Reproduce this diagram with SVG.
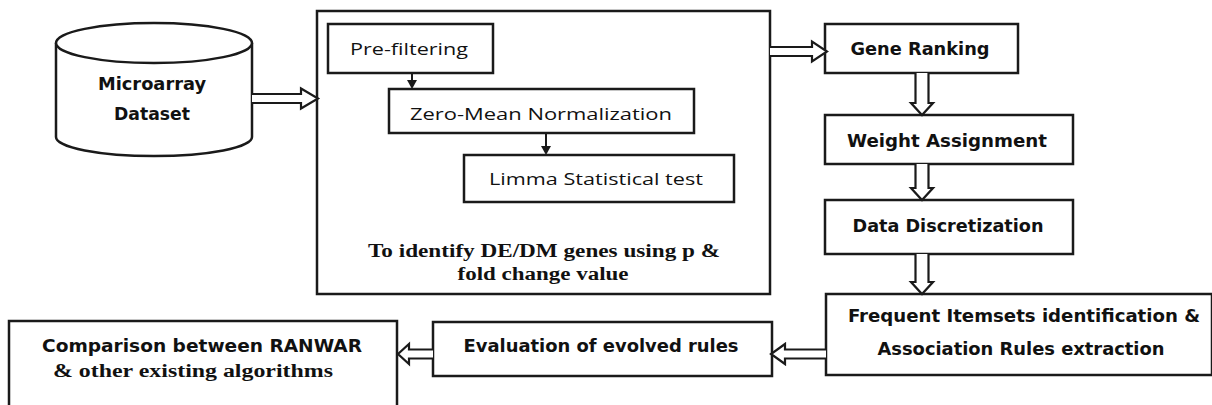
<svg xmlns="http://www.w3.org/2000/svg" width="1212" height="405" viewBox="0 0 1212 405">
<style>
.box{fill:#fff;stroke:#1a1a1a;stroke-width:2.5}
.arr{fill:#fff;stroke:#1a1a1a;stroke-width:2.2;stroke-linejoin:miter}
.sm{fill:none;stroke:#1a1a1a;stroke-width:2}
.tri{fill:#1a1a1a}
.hb{font-family:"DejaVu Sans",Verdana,sans-serif;font-weight:bold;font-size:17px;fill:#111;text-anchor:middle}
.cd{font-family:"DejaVu Sans Condensed","DejaVu Sans",sans-serif;font-weight:bold;font-size:17px;fill:#111;text-anchor:middle}
.rg{font-family:"Open Sans","DejaVu Sans",sans-serif;font-size:16px;fill:#111;text-anchor:middle}
.tb{font-family:"Liberation Serif","Times New Roman",serif;font-weight:bold;font-size:18px;fill:#111;text-anchor:middle}
</style>
<rect width="1212" height="405" fill="#fff"/>
<g id="microarray">
<path class="box" d="M56,43 L56,137 A98,19 0 0 0 252,137 L252,43"/>
<ellipse class="box" cx="154" cy="43" rx="98" ry="20"/>
<text class="hb" x="152" y="90" textLength="108" lengthAdjust="spacingAndGlyphs">Microarray</text>
<text class="hb" x="152" y="120" textLength="76" lengthAdjust="spacingAndGlyphs">Dataset</text>
</g>
<g id="preprocess">
<rect class="box" x="317" y="11" width="453" height="283"/>
<text class="tb" x="544" y="257" textLength="352" lengthAdjust="spacingAndGlyphs">To identify DE/DM genes using p &amp;</text>
<text class="tb" x="543" y="280" textLength="171" lengthAdjust="spacingAndGlyphs">fold change value</text>
</g>
<g id="prefiltering">
<rect class="box" x="328" y="24" width="165" height="49"/>
<text class="rg" x="409" y="55" textLength="118" lengthAdjust="spacingAndGlyphs">Pre-filtering</text>
</g>
<g id="zeromean">
<rect class="box" x="389" y="89" width="305" height="44"/>
<text class="rg" x="541" y="120" textLength="262" lengthAdjust="spacingAndGlyphs">Zero-Mean Normalization</text>
</g>
<g id="limma">
<rect class="box" x="464" y="155" width="270" height="47"/>
<text class="rg" x="596" y="185" textLength="214" lengthAdjust="spacingAndGlyphs">Limma Statistical test</text>
</g>
<g id="generanking">
<rect class="box" x="825" y="24" width="193" height="49"/>
<text class="hb" x="920" y="55" textLength="139" lengthAdjust="spacingAndGlyphs">Gene Ranking</text>
</g>
<g id="weight">
<rect class="box" x="825" y="115" width="248" height="49"/>
<text class="hb" x="947" y="147" textLength="200" lengthAdjust="spacingAndGlyphs">Weight Assignment</text>
</g>
<g id="discretization">
<rect class="box" x="825" y="200" width="248" height="54"/>
<text class="hb" x="948" y="232" textLength="191" lengthAdjust="spacingAndGlyphs">Data Discretization</text>
</g>
<g id="frequent">
<rect class="box" x="826" y="294" width="386" height="81"/>
<text class="cd" x="1024" y="322" textLength="352" lengthAdjust="spacingAndGlyphs">Frequent Itemsets identification  &amp;</text>
<text class="cd" x="1021" y="355" textLength="287" lengthAdjust="spacingAndGlyphs">Association Rules extraction</text>
</g>
<g id="evaluation">
<rect class="box" x="433" y="322" width="339" height="54"/>
<text class="cd" x="601" y="352" textLength="275" lengthAdjust="spacingAndGlyphs">Evaluation of evolved rules</text>
</g>
<g id="comparison">
<rect class="box" x="9" y="321" width="388" height="100"/>
<text class="hb" x="202" y="352" textLength="320" lengthAdjust="spacingAndGlyphs">Comparison between RANWAR</text>
<text class="tb" x="193" y="377" textLength="280" lengthAdjust="spacingAndGlyphs">&amp; other existing algorithms</text>
</g>
<g id="connectors">
<path class="arr" d="M252,94 L301,94 L301,88.5 L318,98.5 L301,108.5 L301,103 L252,103"/>
<path class="arr" d="M770,47 L812,47 L812,41.5 L827,51.5 L812,61.5 L812,56 L770,56"/>
<path class="arr" d="M915.5,73 L915.5,103 L911,103 L922,115 L933,103 L928.5,103 L928.5,73"/>
<path class="arr" d="M915.5,164 L915.5,188 L911,188 L922,200 L933,188 L928.5,188 L928.5,164"/>
<path class="arr" d="M915.5,254 L915.5,282 L911,282 L922,294 L933,282 L928.5,282 L928.5,254"/>
<path class="arr" d="M826,349.5 L785,349.5 L785,344 L771,354 L785,364 L785,358.5 L826,358.5"/>
<path class="arr" d="M433,349.5 L409,349.5 L409,344 L398,354 L409,364 L409,358.5 L433,358.5"/>
<line class="sm" x1="412" y1="73" x2="412" y2="80"/>
<polygon class="tri" points="407,80 417,80 412,89"/>
<line class="sm" x1="546" y1="133" x2="546" y2="146"/>
<polygon class="tri" points="541,146 551,146 546,155"/>
</g>
</svg>
